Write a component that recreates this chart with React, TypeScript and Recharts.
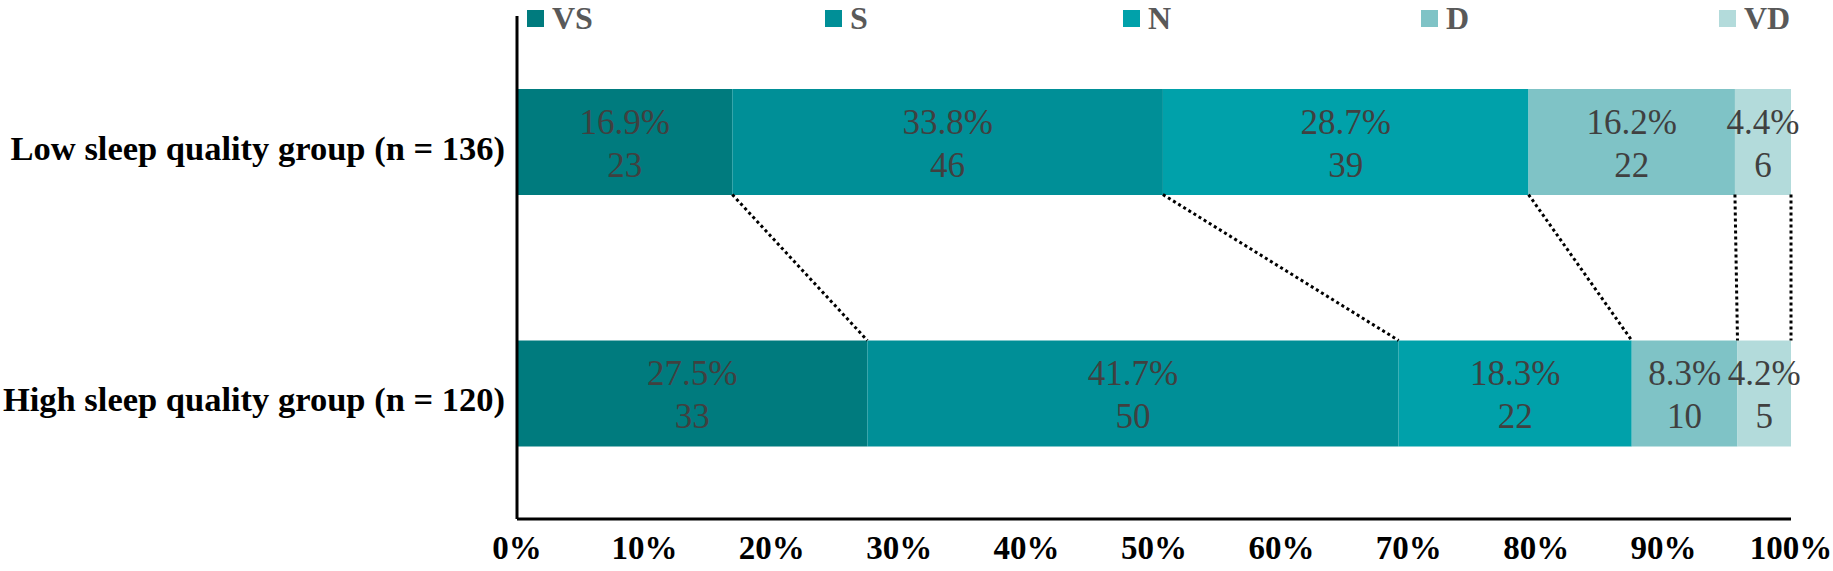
import React from "react";
import { BarChart, Bar, XAxis, YAxis, Legend, LabelList, ReferenceLine } from "recharts";

// ─── Data ────────────────────────────────────────────────────────────────────

const GROUPS = ["Low sleep quality group (n = 136)", "High sleep quality group (n = 120)"];
const LEVELS = ["VS", "S", "N", "D", "VD"];
const COLORS = ["#007b7e", "#008f97", "#00a1aa", "#7fc3c6", "#b3dbdb"];

const LOW_PCT = [16.9, 33.8, 28.7, 16.2, 4.4];
const HIGH_PCT = [27.5, 41.7, 18.3, 8.3, 4.2];
const LOW_COUNT = [23, 46, 39, 22, 6];
const HIGH_COUNT = [33, 50, 22, 10, 5];

const X_TICKS = [0, 10, 20, 30, 40, 50, 60, 70, 80, 90, 100];

// ─── Helpers ─────────────────────────────────────────────────────────────────

const FONT = "'Liberation Serif', 'Times New Roman', serif";
const GAP = 0.29; // barCategoryGap as a fraction of the band

const PCTS = [LOW_PCT, HIGH_PCT];
const COUNTS = [LOW_COUNT, HIGH_COUNT];

const rows = GROUPS.map((g, gi) => ({
  group: g,
  ...Object.fromEntries(LEVELS.map((l, li) => [l, PCTS[gi][li]])),
}));

function cumulative(arr: number[]) {
  let s = 0;
  return arr.map((v) => Math.round((s += v) * 10) / 10);
}

const LOW_CUM = cumulative(LOW_PCT);
const HIGH_CUM = cumulative(HIGH_PCT);

// the hidden index axis spans [0, 1] over the full plot height (two bands)
const LOW_BOTTOM = (1 - GAP) / GROUPS.length;
const HIGH_TOP = (1 + GAP) / GROUPS.length;

const makeLabel = (li: number) => (props: any) => {
  const vb = props.viewBox ?? props;
  const idx = props.index ?? 0;
  const cx = vb.x + vb.width / 2;
  const cy = vb.y + vb.height / 2;
  return (
    <text textAnchor="middle" fill="#404040" fontSize={35} fontFamily={FONT}>
      <tspan x={cx} y={cy - 8}>{PCTS[idx][li].toFixed(1)}%</tspan>
      <tspan x={cx} y={cy + 35}>{COUNTS[idx][li]}</tspan>
    </text>
  );
};

const XTick = (props: any) => (
  <text x={props.x} y={props.y + 40} textAnchor="middle" fontSize={33} fontWeight="bold" fontFamily={FONT} fill="#000">
    {props.payload.value}%
  </text>
);

const YTick = (props: any) => (
  <text x={props.x} y={props.y + 6} dy="0.35em" textAnchor="end" fontSize={34.5} fontWeight="bold" fontFamily={FONT} fill="#000">
    {props.payload.value}
  </text>
);

const renderLegend = () => (
  <div style={{ position: "relative", height: 0 }}>
    <div style={{ position: "absolute", left: 527, top: 0, height: 36, display: "flex", alignItems: "center", whiteSpace: "nowrap" }}>
      {LEVELS.map((l, i) => (
        <div key={l} style={{ display: "flex", alignItems: "center", width: 298 }}>
          <span style={{ display: "inline-block", width: 17, height: 17, background: COLORS[i], marginRight: 8 }} />
          <span style={{ fontFamily: FONT, fontSize: 32, fontWeight: "bold", color: "#595959", lineHeight: "36px" }}>{l}</span>
        </div>
      ))}
    </div>
  </div>
);

// ─── Chart ───────────────────────────────────────────────────────────────────

export default function App() {
  return (
    <div style={{ position: "absolute", left: 0, top: 0, width: 1833, height: 571, background: "#fff" }}>
      <BarChart
        width={1833}
        height={571}
        data={rows}
        layout="vertical"
        barCategoryGap={`${GAP * 100}%`}
        margin={{ top: 16, right: 42, left: 0, bottom: 0 }}
      >
        <XAxis
          type="number"
          domain={[0, 100]}
          ticks={X_TICKS}
          interval={0}
          height={52}
          axisLine={{ stroke: "#000", strokeWidth: 3 }}
          tickLine={false}
          tickSize={0}
          tickMargin={0}
          tick={<XTick />}
        />
        <YAxis
          type="category"
          dataKey="group"
          width={517}
          axisLine={{ stroke: "#000", strokeWidth: 3 }}
          tickLine={false}
          tickSize={0}
          tickMargin={12}
          tick={<YTick />}
        />
        <YAxis yAxisId="band" type="number" domain={[0, 1]} allowDataOverflow hide />
        <Legend verticalAlign="top" content={renderLegend} wrapperStyle={{ top: 0, left: 0, width: 1833 }} />
        {LEVELS.map((l, li) => (
          <Bar key={l} dataKey={l} stackId="a" fill={COLORS[li]} isAnimationActive={false}>
            <LabelList dataKey={l} content={makeLabel(li)} />
          </Bar>
        ))}
        {LOW_CUM.map((v, i) => (
          <ReferenceLine
            key={i}
            yAxisId="band"
            ifOverflow="visible"
            segment={[
              { x: v, y: LOW_BOTTOM },
              { x: HIGH_CUM[i], y: HIGH_TOP },
            ]}
            stroke="#000"
            strokeWidth={3}
            strokeDasharray="3 3"
          />
        ))}
      </BarChart>
    </div>
  );
}
